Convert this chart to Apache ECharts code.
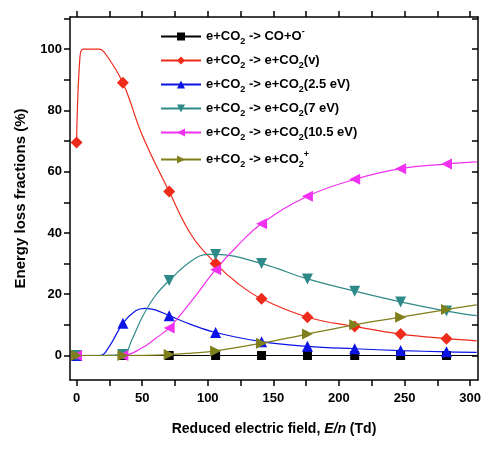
<!DOCTYPE html><html><head><meta charset="utf-8">
<script src="https://cdn.jsdelivr.net/npm/echarts@6/dist/echarts.min.js"></script>
<style>body{margin:0}#c{width:492px;height:455px}</style></head><body><div id="c"></div>
<script>
const markerX = [0, 35.3, 70.6, 106, 141, 176, 212, 247, 282];
const xTickLabels = [0,50,100,150,200,250,300];
const xTicks = [0,25,50,75,100,125,150,175,200,225,250,275,300];
const yTickLabels = [0,20,40,60,80,100];
const yTicks = [0,10,20,30,40,50,60,70,80,90,100,110];
const coO = [[0,0],[35.3,0],[70.6,0],[106,0],[141,0],[176,0],[212,0],[247,0],[282,0],[305,0]];
const vib = [[0,69.5],[2.5,97],[5,100],[17,100],[22,98.5],[35.3,89],[50,72],[70.6,53.5],[88,39],[106,30],[123,23.5],[141,18.5],[176,12.5],[212,9.5],[247,7],[282,5.5],[305,4.8]];
const ev25 = [[0,0],[18,0],[25,3],[35.3,10.5],[45,14.6],[52,15.4],[60,14.9],[70.6,13],[88,10],[106,7.5],[141,4.5],[176,3],[212,2.2],[247,1.6],[282,1.2],[305,1]];
const ev7 = [[0,0],[35.3,0.3],[42,5],[50,12.5],[60,19.5],[70.6,24.5],[88,31],[100,33],[106,33],[141,30],[176,25],[212,21],[247,17.5],[282,14.5],[305,13]];
const ev105 = [[0,0],[35.3,0],[50,2.5],[60,5.5],[70.6,9],[88,18],[106,28],[123,36],[141,43],[176,52],[212,57.5],[247,61],[282,62.5],[305,63.2]];
const ion = [[0,0],[35.3,0],[70.6,0.3],[88,0.8],[106,1.5],[141,4],[176,7],[212,10],[247,12.5],[282,15],[305,16.5]];
const names = ['e+CO2 -> CO+O-','e+CO2 -> e+CO2(v)','e+CO2 -> e+CO2(2.5 eV)','e+CO2 -> e+CO2(7 eV)','e+CO2 -> e+CO2(10.5 eV)','e+CO2 -> e+CO2+'];
const labels = [
 'e+CO{s|2} -> CO+O{p|-}','e+CO{s|2} -> e+CO{s|2}(v)','e+CO{s|2} -> e+CO{s|2}(2.5 eV)',
 'e+CO{s|2} -> e+CO{s|2}(7 eV)','e+CO{s|2} -> e+CO{s|2}(10.5 eV)','e+CO{s|2} -> e+CO{s|2}{p|+}'];
const colors = ['#000000','#ee2a1b','#0a14e6','#2e8a88','#f032f0','#7f7f1c'];
const symbols = ['rect','diamond','triangle','triangle','triangle','triangle'];
const rots = [0,0,0,180,90,-90];
const sizes = [9,12,11,11,11,11];
const datasets = [coO, vib, ev25, ev7, ev105, ion];
function mk(d){return d.map(p=>{const m=markerX.some(x=>Math.abs(x-p[0])<0.01);return m?{value:p}:{value:p,symbol:'none'};});}
const chart = echarts.init(document.getElementById('c'));
const ax = {fontFamily:'Arial',fontWeight:'bold',fontSize:13,color:'#000'};
const line = {onZero:false,lineStyle:{color:'#000',width:1.5}};
const tick = (v,inside)=>({inside:!!inside,length:6,customValues:v,lineStyle:{color:'#000',width:1.5}});
chart.setOption({
 animation:false,
 grid:{left:70,right:14,top:17,bottom:75},
 xAxis:[{type:'value',min:-5,max:306,name:'Reduced electric field, {i|E/n} (Td)',nameLocation:'middle',nameGap:42,
   nameTextStyle:{fontFamily:'Arial',fontWeight:'bold',fontSize:14,color:'#000',rich:{i:{fontFamily:'Arial',fontWeight:'bold',fontStyle:'italic',fontSize:14}}},
   axisLine:line,axisTick:tick(xTicks),splitLine:{show:false},
   axisLabel:{...ax,margin:12,customValues:xTickLabels}},
  {type:'value',position:'top',min:-5,max:306,axisLine:line,axisTick:tick(xTicks),axisLabel:{show:false},splitLine:{show:false}}],
 yAxis:[{type:'value',min:-8,max:110.5,name:'Energy loss fractions (%)',nameLocation:'middle',nameGap:42,
   nameTextStyle:{fontFamily:'Arial',fontWeight:'bold',fontSize:15,color:'#000'},
   axisLine:line,axisTick:tick(yTicks),splitLine:{show:false},
   axisLabel:{...ax,customValues:yTickLabels}},
  {type:'value',position:'right',min:-8,max:110.5,axisLine:line,axisTick:tick(yTicks,true),axisLabel:{show:false},splitLine:{show:false}}],
 legend:{left:155,top:22,orient:'vertical',itemGap:8,itemWidth:40,itemHeight:10,
   data:names,formatter:n=>labels[names.indexOf(n)],
   textStyle:{fontFamily:'Arial',fontWeight:'bold',fontSize:13,color:'#000',rich:{s:{fontSize:9,fontWeight:'bold',padding:[10,0,0,0]},p:{fontSize:9,fontWeight:'bold',padding:[0,0,10,0]}}}},
 series:datasets.map((d,i)=>({name:names[i],type:'line',smooth:0.4,data:mk(d),symbol:symbols[i],symbolRotate:rots[i],symbolSize:sizes[i],
   color:colors[i],lineStyle:{width:1.2,color:colors[i]},itemStyle:{color:colors[i]},z:i===0?1:2}))
});
</script></body></html>
